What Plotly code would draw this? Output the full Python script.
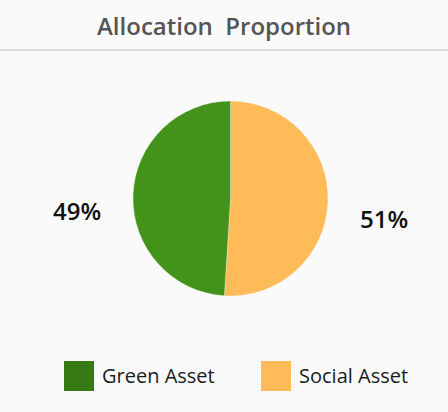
import plotly.graph_objects as go

categories = ["Social Asset", "Green Asset"]
values = [51, 49]
pie_colors = ["#ffbb57", "#43921a"]
legend_order = ["Green Asset", "Social Asset"]
legend_colors = ["#357a14", "#ffbb57"]
title_text = "Allocation  Proportion"

W, H = 448, 412
BG = "#fafafa"
FONT = "Open Sans"

fig = go.Figure()

fig.add_trace(go.Pie(
    labels=categories,
    values=values,
    marker=dict(colors=pie_colors, line=dict(color="rgba(255,255,255,0.6)", width=0.5)),
    sort=False,
    direction="clockwise",
    rotation=0,
    textinfo="none",
    hoverinfo="label+percent",
    showlegend=False,
    domain=dict(x=[133 / W, 328 / W], y=[(H - 296) / H, (H - 101) / H]),
))

# Legend drawn as large square markers
legend_x = [79, 276]
legend_y = [36, 36]
fig.add_trace(go.Scatter(
    x=legend_x, y=legend_y, mode="markers",
    marker=dict(symbol="square", size=30, color=legend_colors, line=dict(width=0)),
    hoverinfo="skip", showlegend=False, xaxis="x", yaxis="y",
))

annotations = []
for lx, ly, name in zip(legend_x, legend_y, legend_order):
    annotations.append(dict(
        x=lx + 21, y=ly + 1, xref="x", yref="y", text=name, showarrow=False,
        xanchor="left", yanchor="middle",
        font=dict(family=FONT, size=20, color="#1a1a1a"),
    ))

# percentage labels
total = sum(values)
pct = {c: round(v * 100 / total) for c, v in zip(categories, values)}
annotations.append(dict(x=77, y=H - 210, xref="x", yref="y", text=f"{pct['Green Asset']}%",
                        showarrow=False, xanchor="center", yanchor="middle",
                        font=dict(family=FONT, size=24, color="#111", weight=600)))
annotations.append(dict(x=384, y=H - 218, xref="x", yref="y", text=f"{pct['Social Asset']}%",
                        showarrow=False, xanchor="center", yanchor="middle",
                        font=dict(family=FONT, size=24, color="#111", weight=600)))

# title
annotations.append(dict(x=W / 2, y=H - 25, xref="x", yref="y", text=title_text,
                        showarrow=False, xanchor="center", yanchor="middle",
                        font=dict(family=FONT, size=24, color="#555555", weight=600)))

fig.update_layout(
    width=W, height=H,
    margin=dict(l=0, r=0, t=0, b=0),
    paper_bgcolor=BG, plot_bgcolor=BG,
    xaxis=dict(range=[0, W], domain=[0, 1], visible=False, fixedrange=True),
    yaxis=dict(range=[0, H], domain=[0, 1], visible=False, fixedrange=True),
    annotations=annotations,
    shapes=[dict(type="line", xref="x", yref="y", x0=0, x1=W, y0=H - 50, y1=H - 50,
                 line=dict(color="#dcdcdc", width=2))],
    showlegend=False,
)

fig.write_html(
    "out.html",
    config={"displayModeBar": False},
    post_script="document.body.style.margin='0';document.body.style.background='#fafafa';",
)
